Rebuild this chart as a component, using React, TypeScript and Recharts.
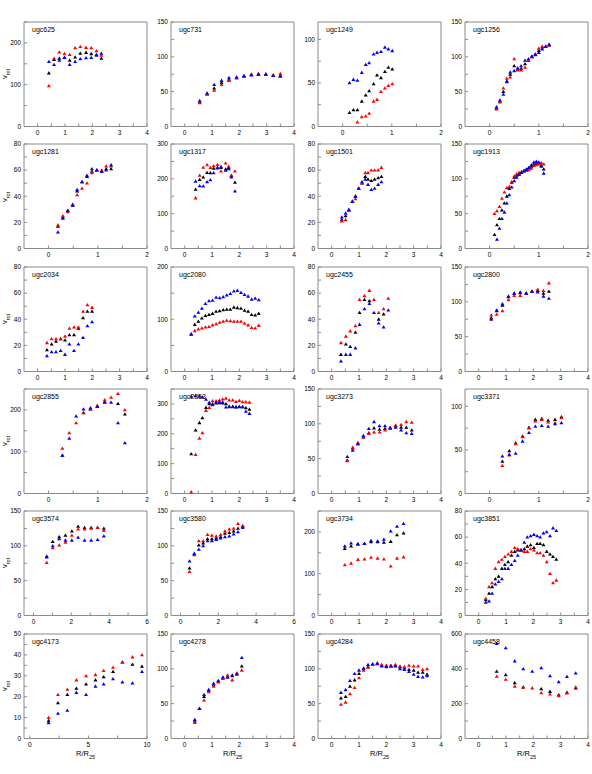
import { ScatterChart, Scatter, XAxis, YAxis, ReferenceArea } from "recharts";

// ---- axis tick labels ----
const xTicks2 = [0, 1, 2];
const xTicks4 = [0, 1, 2, 3, 4];
const xTicks6 = [0, 2, 4, 6];
const xTicks10 = [0, 5, 10];
const yBy10 = [0, 10, 20, 30, 40, 50];
const yBy20 = [0, 20, 40, 60, 80];
const yBy50 = [0, 50, 100, 150];
const yBy100 = [0, 100, 200, 300];
const yBy200 = [0, 200, 400, 600];

// ---- row 1 ----
const ugc625X = [0.41, 0.6, 0.79, 0.98, 1.17, 1.37, 1.56, 1.77, 1.96, 2.15, 2.33];
const ugc625Black = [128, 160, 163, 165, 158, 166, 175, 177, 174, 172, 163];
const ugc625Red = [97, 163, 178, 174, 172, 188, 191, 189, 188, 181, 170];
const ugc625Blue = [155, 148, 158, 165, 148, 155, 162, 164, 165, 170, 175];

const ugc731X = [0.55, 0.82, 1.08, 1.35, 1.62, 1.9, 2.17, 2.44, 2.7, 2.97, 3.24, 3.5];
const ugc731Black = [35, 47, 55, 63, 67, 70, 72, 74, 75, 75, 73, 73];
const ugc731Red = [34, 46, 52, 60, 66, 70, 72, 75, 76, 75, 74, 76];
const ugc731Blue = [37, 48, 60, 66, 70, 71, 73, 74, 75, 75, 73, 72];

const ugc1249X = [0.14, 0.22, 0.3, 0.39, 0.47, 0.54, 0.63, 0.7, 0.78, 0.86, 0.93, 1.01];
const ugc1249Black = [16, 19, 19, 29, 36, 41, 49, 59, 56, 63, 68, 66];
const ugc1249Red = [null, null, 5, 11, 12, 15, 29, 31, 40, 44, 47, 49];
const ugc1249Blue = [50, 54, 53, 62, 71, 73, 83, 85, 86, 91, 89, 87];

const ugc1256X = [0.14, 0.21, 0.28, 0.35, 0.42, 0.5, 0.57, 0.64, 0.72, 0.79, 0.86, 0.93, 1.0, 1.07, 1.14, 1.21];
const ugc1256Black = [26, 36, 50, 65, 75, 87, 82, 83, 90, 95, 100, 104, 109, 114, 115, 117];
const ugc1256Red = [25, 35, 55, 69, 71, 97, 81, 81, 85, 95, 100, 104, 112, 115, 115, 117];
const ugc1256Blue = [28, 38, 46, 64, 78, 80, 84, 87, 95, 97, 101, 103, 106, 111, 115, 118];

// ---- row 2 ----
const ugc1281X = [0.19, 0.29, 0.39, 0.49, 0.58, 0.68, 0.78, 0.88, 0.98, 1.08, 1.17, 1.27];
const ugc1281Black = [17, 24, 29, 33, 44, 51, 55, 59, 60, 59, 61, 61];
const ugc1281Red = [18, 25, 28, 34, 41, 46, 50, 58, 60, 60, 63, 63];
const ugc1281Blue = [12.5, 23, 29, 33, 45, 51, 56, 61, 60, 59, 60, 64];

const ugc1317X = [0.4, 0.55, 0.68, 0.82, 0.94, 1.06, 1.2, 1.33, 1.5, 1.61, 1.71, 1.84];
const ugc1317Black = [170, 198, 205, 218, 217, 230, 232, 232, 228, 232, 209, 190];
const ugc1317Red = [145, 210, 233, 240, 232, 237, 241, 222, 245, 236, 210, 222];
const ugc1317Blue = [193, 180, 179, 191, 197, 217, 231, 235, 224, 229, 205, 165];

const ugc1501X = [0.37, 0.51, 0.63, 0.76, 0.87, 0.99, 1.11, 1.23, 1.33, 1.45, 1.57, 1.7, 1.82];
const ugc1501Black = [22, 25, 29, 36, 40, 46, 50, 55, 53, 52, 53, 54, 55];
const ugc1501Red = [21, 22, 29, 36, 38, 46, 50, 58, 58, 60, 60, 60, 62];
const ugc1501Blue = [24, 27, 30, 36, 40, 46, 51, 53, 49, 45, 46, 49, 51];

const ugc1913X = [0.1, 0.15, 0.2, 0.25, 0.3, 0.35, 0.4, 0.45, 0.5, 0.55, 0.6, 0.65, 0.7, 0.75, 0.8, 0.85, 0.9, 0.95, 1.0, 1.05, 1.1];
const ugc1913Black = [20, 34, 43, 55, 65, 75, 86, 95, 102, 105, 108, 110, 112, 114, 116, 118, 121, 122, 122, 119, 114];
const ugc1913Red = [50, 54, 60, 72, 81, 87, 89, 96, 104, 107, 109, 110, 111, 112, 113, 115, 119, 120, 121, 123, 121];
const ugc1913Blue = [null, 13, 29, 43, 52, 65, 77, 88, 97, 102, 106, 109, 111, 113, 116, 120, 124, 125, 124, 118, 108];

// ---- row 3 ----
const ugc2034X = [0.34, 0.51, 0.67, 0.84, 1.0, 1.16, 1.33, 1.49, 1.66, 1.82, 1.99];
const ugc2034Black = [16.5, 21, 23, 25, 24, 28, 28, 33, 41, 46, 46];
const ugc2034Red = [22, 25, 25, 25, 27, 33, 34, 34, 46, 51, 49];
const ugc2034Blue = [12, 15, 15, 16, 13, 21, 16, 21, 26, 35, 38];

const ugc2080X = [0.24, 0.37, 0.5, 0.63, 0.76, 0.89, 1.02, 1.15, 1.28, 1.41, 1.54, 1.67, 1.8, 1.93, 2.06, 2.19, 2.32, 2.45, 2.58, 2.71];
const ugc2080Black = [71, 90, 96, 102, 107, 109, 111, 115, 116, 118, 119, 119, 123, 122, 121, 117, 115, 109, 108, 111];
const ugc2080Red = [71, 78, 81, 83, 85, 86, 89, 91, 94, 96, 98, 97, 96, 96, 96, 92, 89, 84, 83, 88];
const ugc2080Blue = [72, 106, 113, 121, 130, 135, 136, 142, 141, 143, 146, 149, 154, 155, 151, 147, 144, 138, 140, 137];

const ugc2455X = [0.34, 0.52, 0.68, 0.87, 1.02, 1.2, 1.38, 1.55, 1.72, 1.9, 2.07];
const ugc2455Black = [13, 21, 19, 30, 45, 55, 54, null, 40, 44, null];
const ugc2455Red = [22, 27, 31, 35, 55, 58, 62, 55, 45, 48, 56];
const ugc2455Blue = [8, 13, 13, 18, 36, 48, 52, 45, 37, 34, 47];

const ugc2800X = [0.46, 0.66, 0.87, 1.09, 1.3, 1.52, 1.74, 1.95, 2.16, 2.37, 2.57];
const ugc2800Black = [77, 87, 95, 107, 112, 113, 112, 115, 116, 112, 115];
const ugc2800Red = [81, 82, 87, 103, 109, 109, 113, 115, 118, 116, 127];
const ugc2800Blue = [75, 88, 97, 108, 112, 114, 112, 115, 114, 108, 105];

// ---- row 4 ----
const ugc2855X = [0.28, 0.42, 0.56, 0.71, 0.85, 0.99, 1.14, 1.27, 1.41, 1.55];
const ugc2855Black = [91, null, null, 193, 202, 208, 219, null, 215, 190];
const ugc2855Red = [108, 145, 169, 194, 202, 211, 224, 230, 239, 200];
const ugc2855Blue = [91, 132, 185, 202, 205, 208, 218, 218, 169, 121];

const ugc2853X = [0.24, 0.4, 0.54, 0.65, 0.78, 0.9, 1.02, 1.15, 1.27, 1.39, 1.51, 1.63, 1.76, 1.88, 2.0, 2.12, 2.24, 2.37];
const ugc2853Black = [133, 212, 237, 253, 288, 300, 300, 303, 304, 303, 300, 292, 292, 290, 291, 290, 287, 282];
const ugc2853Red = [5, 130, 185, 203, 278, 288, 310, 310, 313, 316, 319, 313, 313, 308, 311, 307, 307, 305];
const ugc2853Blue = [325, 327, 325, 323, 315, 305, 297, 305, 307, 306, 289, 290, 290, 289, 290, 290, 275, 268];

const ugc3273X = [0.57, 0.77, 0.96, 1.16, 1.36, 1.55, 1.75, 1.95, 2.14, 2.34, 2.54, 2.73, 2.93];
const ugc3273Black = [48, 65, 72, 81, 87, 94, 92, 93, 94, 97, 95, 95, 91];
const ugc3273Red = [47, 66, 73, 81, 86, 88, 88, 91, 95, 98, 99, 103, 102];
const ugc3273Blue = [53, 62, 71, 83, 93, 103, 97, 97, 94, 95, 91, 87, 86];

const ugc3371X = [0.26, 0.4, 0.53, 0.67, 0.8, 0.93, 1.06, 1.19, 1.33, 1.46];
const ugc3371Black = [37, 49, 58, 66, 76, 85, 86, 84, 85, 88];
const ugc3371Red = [32, 44, 57, 65, 75, 83, 85, 82, 81, 87];
const ugc3371Blue = [43, 45, 46, 60, 70, 77, 78, 77, 80, 81];

// ---- row 5 ----
const ugc3574X = [0.7, 1.02, 1.36, 1.69, 2.03, 2.36, 2.7, 3.05, 3.39, 3.72];
const ugc3574Black = [85, 106, 113, 115, 121, 128, 126, 126, 126, 125];
const ugc3574Red = [76, 97, 101, 105, 115, 124, 124, 125, 126, 122];
const ugc3574Blue = [84, 100, 110, 108, 108, 112, 108, 108, 109, 114];

const ugc3580X = [0.48, 0.73, 0.97, 1.2, 1.43, 1.66, 1.89, 2.12, 2.35, 2.58, 2.81, 3.04, 3.29];
const ugc3580Black = [68, 88, 101, 104, 110, 110, 111, 113, 118, 119, 121, 125, 128];
const ugc3580Red = [63, 87, 107, 107, 116, 115, 114, 116, 121, 124, 125, 132, 129];
const ugc3580Blue = [78, 89, 95, 100, 107, 107, 109, 111, 113, 114, 117, 120, 126];

const ugc3734X = [0.48, 0.71, 0.96, 1.2, 1.44, 1.68, 1.91, 2.16, 2.39, 2.63];
const ugc3734Black = [160, 166, 171, 172, 176, 176, 175, 177, 193, 197];
const ugc3734Red = [121, 125, 134, 135, 139, 137, 135, 118, 137, 140];
const ugc3734Blue = [166, 173, 171, 172, 179, 178, 182, 202, 213, 220];

const ugc3851X = [0.26, 0.38, 0.49, 0.61, 0.73, 0.85, 0.96, 1.08, 1.2, 1.32, 1.43, 1.55, 1.67, 1.78, 1.9, 2.02, 2.14, 2.25, 2.37, 2.49, 2.61, 2.72, 2.84];
const ugc3851Black = [12, 17, 22, 28, 30, 36, 39, 41, 46, 49, 50, 50, 51, 53, 54, 52, 55, 55, 54, 49, 47, 45, 43];
const ugc3851Red = [13, 22, 25, 36, 41, 43, 45, 47, 49, 52, 51, 50, 49, 49, 51, 50, 48, 48, 46, 41, 32, 25, 27];
const ugc3851Blue = [10, 11, 17, 24, 26, 28, 36, 36, 39, 42, 46, 50, 56, 60, 61, 62, 61, 60, 63, 64, 61, 67, 65];

// ---- row 6 ----
const ugc4173X = [1.6, 2.4, 3.2, 3.97, 4.8, 5.6, 6.3, 7.1, 7.9, 8.76, 9.57];
const ugc4173Black = [8.5, 17, 21, 24, 26, 28, 29.5, 32, 36.5, 35.5, 34.5];
const ugc4173Red = [10, 21, 23.5, 28, 30, 30.5, 32.5, 34, 36.5, 39, 40];
const ugc4173Blue = [7.5, 12, 13.5, 22, 21, 25, 26, 28.5, 27, 26.5, 32];

const ugc4278X = [0.37, 0.54, 0.71, 0.88, 1.06, 1.23, 1.4, 1.57, 1.74, 1.91, 2.09];
const ugc4278Black = [25, 43, 60, 69, 77, 82, 87, 88, 90, 93, 104];
const ugc4278Red = [23, 43, 55, 67, 75, 81, 86, 91, 84, 94, 98];
const ugc4278Blue = [27, 43, 63, 70, 79, 83, 88, 88, 91, 92, 116];

const ugc4284X = [0.34, 0.51, 0.67, 0.84, 1.0, 1.17, 1.33, 1.5, 1.67, 1.83, 2.0, 2.17, 2.33, 2.5, 2.66, 2.83, 3.0, 3.16, 3.33, 3.49];
const ugc4284Black = [58, 60, 75, 84, 93, 100, 103, 106, 107, 105, 104, 104, 105, 103, 101, 99, 98, 95, 95, 92];
const ugc4284Red = [49, 52, 64, 73, 87, 98, 102, 106, 108, 106, 105, 105, 106, 104, 103, 105, 104, 104, 99, 100];
const ugc4284Blue = [66, 70, 83, 93, 98, 101, 106, 107, 108, 104, 103, 104, 104, 100, 99, 96, 92, 89, 88, 90];

const ugc4458X = [0.66, 0.99, 1.32, 1.63, 1.96, 2.29, 2.61, 2.93, 3.23, 3.55];
const ugc4458Black = [385, 365, 320, 295, null, 285, 270, 250, 265, 290];
const ugc4458Red = [357, 340, 300, 293, 290, 262, 255, 245, 260, 295];
const ugc4458Blue = [545, 520, 445, 400, 385, 405, 360, 325, 355, 375];

const panels = [
  { name: "ugc625", x: ugc625X, k: ugc625Black, r: ugc625Red, b: ugc625Blue, xt: xTicks4, yt: yBy100, yMax: 250 },
  { name: "ugc731", x: ugc731X, k: ugc731Black, r: ugc731Red, b: ugc731Blue, xt: xTicks4, yt: yBy50, yMax: 150 },
  { name: "ugc1249", x: ugc1249X, k: ugc1249Black, r: ugc1249Red, b: ugc1249Blue, xt: xTicks2, yt: yBy50, yMax: 120 },
  { name: "ugc1256", x: ugc1256X, k: ugc1256Black, r: ugc1256Red, b: ugc1256Blue, xt: xTicks2, yt: yBy50, yMax: 150 },
  { name: "ugc1281", x: ugc1281X, k: ugc1281Black, r: ugc1281Red, b: ugc1281Blue, xt: xTicks2, yt: yBy20, yMax: 80 },
  { name: "ugc1317", x: ugc1317X, k: ugc1317Black, r: ugc1317Red, b: ugc1317Blue, xt: xTicks4, yt: yBy100, yMax: 300 },
  { name: "ugc1501", x: ugc1501X, k: ugc1501Black, r: ugc1501Red, b: ugc1501Blue, xt: xTicks4, yt: yBy20, yMax: 80 },
  { name: "ugc1913", x: ugc1913X, k: ugc1913Black, r: ugc1913Red, b: ugc1913Blue, xt: xTicks2, yt: yBy50, yMax: 150 },
  { name: "ugc2034", x: ugc2034X, k: ugc2034Black, r: ugc2034Red, b: ugc2034Blue, xt: xTicks4, yt: yBy20, yMax: 80 },
  { name: "ugc2080", x: ugc2080X, k: ugc2080Black, r: ugc2080Red, b: ugc2080Blue, xt: xTicks4, yt: yBy100, yMax: 200 },
  { name: "ugc2455", x: ugc2455X, k: ugc2455Black, r: ugc2455Red, b: ugc2455Blue, xt: xTicks4, yt: yBy20, yMax: 80 },
  { name: "ugc2800", x: ugc2800X, k: ugc2800Black, r: ugc2800Red, b: ugc2800Blue, xt: xTicks4, yt: yBy50, yMax: 150 },
  { name: "ugc2855", x: ugc2855X, k: ugc2855Black, r: ugc2855Red, b: ugc2855Blue, xt: xTicks2, yt: yBy100, yMax: 250 },
  { name: "ugc2853", x: ugc2853X, k: ugc2853Black, r: ugc2853Red, b: ugc2853Blue, xt: xTicks4, yt: yBy100, yMax: 350 },
  { name: "ugc3273", x: ugc3273X, k: ugc3273Black, r: ugc3273Red, b: ugc3273Blue, xt: xTicks4, yt: yBy50, yMax: 150 },
  { name: "ugc3371", x: ugc3371X, k: ugc3371Black, r: ugc3371Red, b: ugc3371Blue, xt: xTicks2, yt: yBy50, yMax: 120 },
  { name: "ugc3574", x: ugc3574X, k: ugc3574Black, r: ugc3574Red, b: ugc3574Blue, xt: xTicks6, yt: yBy50, yMax: 150 },
  { name: "ugc3580", x: ugc3580X, k: ugc3580Black, r: ugc3580Red, b: ugc3580Blue, xt: xTicks6, yt: yBy50, yMax: 150 },
  { name: "ugc3734", x: ugc3734X, k: ugc3734Black, r: ugc3734Red, b: ugc3734Blue, xt: xTicks4, yt: yBy100, yMax: 250 },
  { name: "ugc3851", x: ugc3851X, k: ugc3851Black, r: ugc3851Red, b: ugc3851Blue, xt: xTicks4, yt: yBy20, yMax: 80 },
  { name: "ugc4173", x: ugc4173X, k: ugc4173Black, r: ugc4173Red, b: ugc4173Blue, xt: xTicks10, yt: yBy10, yMax: 50 },
  { name: "ugc4278", x: ugc4278X, k: ugc4278Black, r: ugc4278Red, b: ugc4278Blue, xt: xTicks4, yt: yBy50, yMax: 150 },
  { name: "ugc4284", x: ugc4284X, k: ugc4284Black, r: ugc4284Red, b: ugc4284Blue, xt: xTicks4, yt: yBy50, yMax: 150 },
  { name: "ugc4458", x: ugc4458X, k: ugc4458Black, r: ugc4458Red, b: ugc4458Blue, xt: xTicks4, yt: yBy200, yMax: 600 },
];

const FONT = '"Liberation Sans", Arial, sans-serif';
const FRAME = "#8a8a8a";
const PLOT_W = 123;
const PLOT_H = 104.5;
const PAD_L = 24;
const PAD_T = 4;
const PAD_R = 6;
const PAD_B = 14;

// labelled ticks plus a minor tick halfway between
function withMinor(major: number[], max: number) {
  const half = (major[1] - major[0]) / 2;
  const out: number[] = [];
  for (let v = major[0]; v <= max + 1e-9; v += half) out.push(+v.toFixed(4));
  return out;
}

const Tri = (color: string) => (props: any) => {
  const { cx, cy } = props;
  if (cx == null || cy == null) return <g />;
  return (
    <path
      d={`M${cx},${cy - 1.9}L${cx + 2},${cy + 1.4}L${cx - 2},${cy + 1.4}Z`}
      fill={color}
    />
  );
};

function Panel({ p, idx }: { p: any; idx: number }) {
  const col = idx % 4;
  const row = Math.floor(idx / 4);
  const left = 24 + col * 147;
  const top = 22 + row * 122.3;
  const xMax = p.xt[p.xt.length - 1];
  const yLabels = p.yt.filter((v: number) => v <= p.yMax);
  const pts = (ys: (number | null)[]) =>
    p.x.map((x: number, i: number) => ({ x, y: ys[i] })).filter((d: any) => d.y != null);
  const tickStyle = { fontSize: 6.5, fill: "#000", fontFamily: FONT };

  return (
    <>
      <div style={{ position: "absolute", left: left - PAD_L, top: top - PAD_T }}>
        <ScatterChart
          width={PAD_L + PLOT_W + PAD_R}
          height={PAD_T + PLOT_H + PAD_B}
          margin={{ top: PAD_T, right: PAD_R, left: 0, bottom: 0 }}
        >
          <XAxis
            type="number"
            dataKey="x"
            domain={[-0.5, xMax]}
            ticks={withMinor(p.xt, xMax)}
            tickFormatter={(v: number) => (p.xt.includes(v) ? String(v) : "")}
            interval={0}
            allowDataOverflow
            height={PAD_B}
            axisLine={false}
            tickSize={-3}
            tickMargin={7}
            tickLine={{ stroke: FRAME }}
            tick={tickStyle}
          />
          <YAxis
            type="number"
            dataKey="y"
            domain={[0, p.yMax]}
            ticks={withMinor(yLabels, p.yMax)}
            tickFormatter={(v: number) => (yLabels.includes(v) ? String(v) : "")}
            interval={0}
            allowDataOverflow
            width={PAD_L}
            axisLine={false}
            tickSize={-3}
            tickMargin={6}
            tickLine={{ stroke: FRAME }}
            tick={tickStyle}
          />
          <ReferenceArea
            x1={-0.5}
            x2={xMax}
            y1={0}
            y2={p.yMax}
            fill="none"
            fillOpacity={0}
            stroke={FRAME}
            strokeWidth={1}
          />
          <Scatter data={pts(p.k)} shape={Tri("#000000")} isAnimationActive={false} />
          <Scatter data={pts(p.r)} shape={Tri("#ff0000")} isAnimationActive={false} />
          <Scatter data={pts(p.b)} shape={Tri("#0000ff")} isAnimationActive={false} />
        </ScatterChart>
      </div>
      <div
        style={{
          position: "absolute",
          left: left + 8,
          top: top + 4,
          fontSize: 7,
          fontFamily: FONT,
          color: "#000",
          lineHeight: "8px",
        }}
      >
        {p.name}
      </div>
      {col === 0 && (
        <div
          style={{
            position: "absolute",
            left: -10,
            top: top + PLOT_H / 2 - 5,
            width: 30,
            height: 10,
            transform: "rotate(-90deg)",
            textAlign: "center",
            fontSize: 7.5,
            fontFamily: FONT,
            lineHeight: "10px",
          }}
        >
          v<sub style={{ fontSize: 5.5 }}>rot</sub>
        </div>
      )}
      {row === 5 && (
        <div
          style={{
            position: "absolute",
            left: left,
            width: PLOT_W,
            top: top + PLOT_H + 11,
            textAlign: "center",
            fontSize: 7.5,
            fontFamily: FONT,
            lineHeight: "10px",
          }}
        >
          R/R<sub style={{ fontSize: 5.5 }}>25</sub>
        </div>
      )}
    </>
  );
}

export default function App() {
  return (
    <div
      style={{
        position: "absolute",
        left: 0,
        top: 0,
        width: 592,
        height: 774,
        background: "#fff",
        overflow: "hidden",
      }}
    >
      {panels.map((p, i) => (
        <Panel key={p.name} p={p} idx={i} />
      ))}
    </div>
  );
}
